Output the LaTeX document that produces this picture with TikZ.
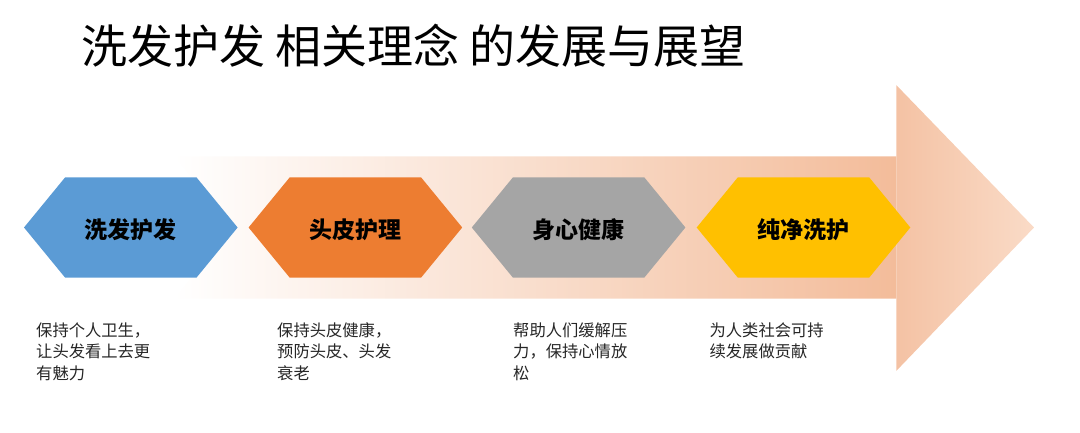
\documentclass[tikz,border=0pt]{standalone}
\usepackage{fontspec}
\setmainfont{Noto Sans CJK SC}
\usepackage{tikz}
\usepackage{xcolor}

\definecolor{hexblue}{HTML}{5B9BD5}
\definecolor{hexorange}{HTML}{ED7D31}
\definecolor{hexgray}{HTML}{A5A5A5}
\definecolor{hexyellow}{HTML}{FFC000}
\definecolor{arrowpeach}{HTML}{F3BC9A}
\definecolor{headpeach}{HTML}{F4C2A4}
\definecolor{tippeach}{HTML}{FADBC7}

\tikzset{
	steplabel/.style={inner sep=0pt,font=\fontsize{23}{26}\selectfont\bfseries,text=black},
	desctext/.style={anchor=north west,inner sep=0pt,align=left,font=\fontsize{16.3}{21.4}\selectfont,text=black!85}
}

\begin{document}
\begin{tikzpicture}[x=1pt,y=-1pt]
			\useasboundingbox (0,0) rectangle (1080,433);
			\node[anchor=west,inner sep=0pt,font=\fontsize{46}{50}\selectfont] (title) at (81,46) {洗发护发 相关理念 的发展与展望};
			% big arrow
			\coordinate (t1) at (174,156.4);
			\coordinate (t2) at (232,227.5);
			\coordinate (t3) at (174,298.6);
			\coordinate (b1) at (896.4,156.4);
			\coordinate (b2) at (896.4,298.6);
			\coordinate (h1) at (896.4,85.2);
			\coordinate (h2) at (1034,227.5);
			\coordinate (h3) at (896.4,370.8);
			\shade[left color=white,right color=arrowpeach] (t1) -- (b1) -- (b2) -- (t3) -- (t2) -- cycle;
			\shade[left color=headpeach,right color=tippeach] (h1) -- (h2) -- (h3) -- cycle;
			% hexagons
			\foreach \X/\Col/\Nom/\Txt in {24/hexblue/s1/洗发护发,248.6/hexorange/s2/头皮护理,471.8/hexgray/s3/身心健康,696.7/hexyellow/s4/纯净洗护}
			{
			\begin{scope}[shift={(\X,0)}]
				\coordinate (1) at (0,227.5);
				\coordinate (2) at (41,177.5);
				\coordinate (3) at (172.6,177.5);
				\coordinate (4) at (213.6,227.5);
				\coordinate (5) at (172.6,277.5);
				\coordinate (6) at (41,277.5);
				\fill[\Col] (1) -- (2) -- (3) -- (4) -- (5) -- (6) -- cycle;
				\node[steplabel] (\Nom) at (106.8,229.5) {\Txt};
			\end{scope}
			}
			% descriptions
			\node[desctext] (d1) at (36,322.5) {保持个人卫生，\\让头发看上去更\\有魅力};
			\node[desctext] (d2) at (277,322.5) {保持头皮健康，\\预防头皮、头发\\衰老};
			\node[desctext] (d3) at (513,322.5) {帮助人们缓解压\\力，保持心情放\\松};
			\node[desctext] (d4) at (709.4,322.5) {为人类社会可持\\续发展做贡献};
		\end{tikzpicture}
\end{document}
